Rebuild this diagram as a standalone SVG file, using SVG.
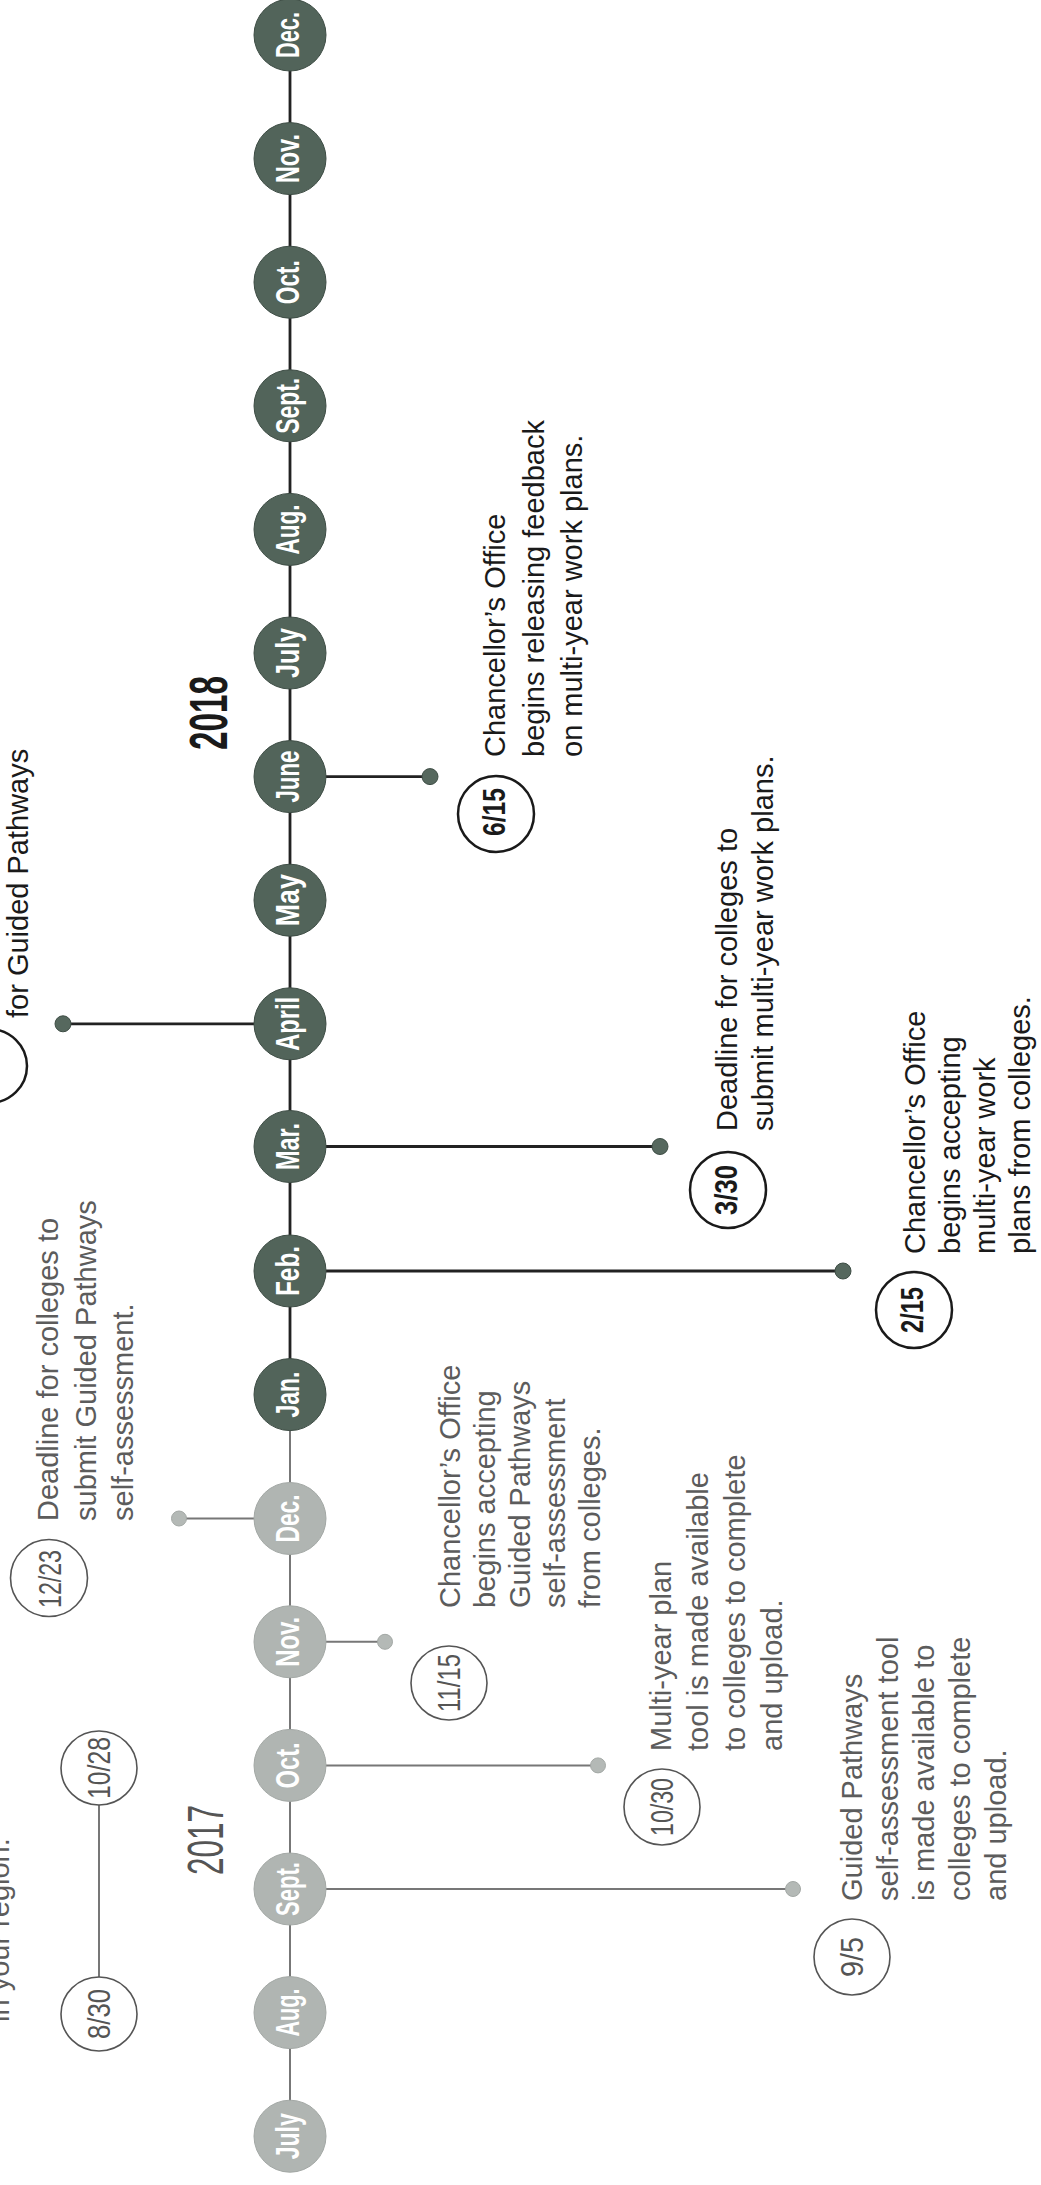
<svg xmlns="http://www.w3.org/2000/svg" width="1041" height="2185" viewBox="0 0 1041 2185">
<style>
.bg{fill:#ffffff}
.mdark{fill:#52645a;stroke:#3e4d45;stroke-width:1}
.mlight{fill:#b0b5b2;stroke:#a3a8a5;stroke-width:1}
.ml{font-family:"Liberation Sans",Arial,sans-serif;font-weight:bold;font-size:34px;fill:#ffffff;text-anchor:middle}
.b18{font-family:"Liberation Sans",Arial,sans-serif;font-size:29px;fill:#1a1a1a}
.b17{font-family:"Liberation Sans",Arial,sans-serif;font-size:29px;fill:#5c5c5c}
.bd18{fill:#ffffff;stroke:#1a1a1a;stroke-width:2.5}
.bd17{fill:#ffffff;stroke:#555555;stroke-width:1.6}
.bt18{font-family:"Liberation Sans",Arial,sans-serif;font-weight:bold;font-size:32px;fill:#1a1a1a;text-anchor:middle}
.bt17{font-family:"Liberation Sans",Arial,sans-serif;font-size:32px;fill:#555555;text-anchor:middle}
.c18{stroke:#222222;stroke-width:2.8;fill:none}
.c17{stroke:#777777;stroke-width:2;fill:none}
.d18{fill:#56685e;stroke:#3e4d45;stroke-width:1}
.d17{fill:#b4b9b6;stroke:#a3a8a5;stroke-width:1}
.yr18{font-family:"Liberation Sans",Arial,sans-serif;font-weight:bold;font-size:54px;fill:#1a1a1a;text-anchor:middle}
.yr17{font-family:"Liberation Sans",Arial,sans-serif;font-size:50px;fill:#555555;text-anchor:middle}
</style>
<rect class="bg" x="0" y="0" width="1041" height="2185"/>

<g id="connectors">
  <line class="c18" x1="290" y1="35" x2="290" y2="1394.6"/>
  <line class="c17" x1="290" y1="1394.6" x2="290" y2="2136.2"/>
  <line class="c18" x1="326" y1="776.6" x2="430" y2="776.6"/>
  <line class="c18" x1="254" y1="1023.8" x2="63" y2="1023.8"/>
  <line class="c18" x1="326" y1="1146.5" x2="660" y2="1146.5"/>
  <line class="c18" x1="326" y1="1271" x2="843" y2="1271"/>
  <line class="c17" x1="254" y1="1518.5" x2="179" y2="1518.5"/>
  <line class="c17" x1="326" y1="1641.8" x2="385" y2="1641.8"/>
  <line class="c17" x1="326" y1="1765.4" x2="598" y2="1765.4"/>
  <line class="c17" x1="326" y1="1889" x2="793" y2="1889"/>
  <line class="c17" x1="99" y1="1805" x2="99" y2="1977"/>
</g>

<g id="months">
  <g id="m-dec-2018"><circle class="mdark" cx="290" cy="35" r="36"/><text class="ml" transform="translate(290,35) rotate(-90)" y="8.5" textLength="46" lengthAdjust="spacingAndGlyphs">Dec.</text></g>
  <g id="m-nov-2018"><circle class="mdark" cx="290" cy="158.6" r="36"/><text class="ml" transform="translate(290,158.6) rotate(-90)" y="8.5" textLength="49" lengthAdjust="spacingAndGlyphs">Nov.</text></g>
  <g id="m-oct-2018"><circle class="mdark" cx="290" cy="282.2" r="36"/><text class="ml" transform="translate(290,282.2) rotate(-90)" y="8.5" textLength="44" lengthAdjust="spacingAndGlyphs">Oct.</text></g>
  <g id="m-sept-2018"><circle class="mdark" cx="290" cy="405.8" r="36"/><text class="ml" transform="translate(290,405.8) rotate(-90)" y="8.5" textLength="56" lengthAdjust="spacingAndGlyphs">Sept.</text></g>
  <g id="m-aug-2018"><circle class="mdark" cx="290" cy="529.4" r="36"/><text class="ml" transform="translate(290,529.4) rotate(-90)" y="8.5" textLength="50" lengthAdjust="spacingAndGlyphs">Aug.</text></g>
  <g id="m-july-2018"><circle class="mdark" cx="290" cy="653" r="36"/><text class="ml" transform="translate(290,653) rotate(-90)" y="8.5" textLength="50" lengthAdjust="spacingAndGlyphs">July</text></g>
  <g id="m-june-2018"><circle class="mdark" cx="290" cy="776.6" r="36"/><text class="ml" transform="translate(290,776.6) rotate(-90)" y="8.5" textLength="52" lengthAdjust="spacingAndGlyphs">June</text></g>
  <g id="m-may-2018"><circle class="mdark" cx="290" cy="900.2" r="36"/><text class="ml" transform="translate(290,900.2) rotate(-90)" y="8.5" textLength="52" lengthAdjust="spacingAndGlyphs">May</text></g>
  <g id="m-april-2018"><circle class="mdark" cx="290" cy="1023.8" r="36"/><text class="ml" transform="translate(290,1023.8) rotate(-90)" y="8.5" textLength="54" lengthAdjust="spacingAndGlyphs">April</text></g>
  <g id="m-mar-2018"><circle class="mdark" cx="290" cy="1146.5" r="36"/><text class="ml" transform="translate(290,1146.5) rotate(-90)" y="8.5" textLength="47" lengthAdjust="spacingAndGlyphs">Mar.</text></g>
  <g id="m-feb-2018"><circle class="mdark" cx="290" cy="1271" r="36"/><text class="ml" transform="translate(290,1271) rotate(-90)" y="8.5" textLength="50" lengthAdjust="spacingAndGlyphs">Feb.</text></g>
  <g id="m-jan-2018"><circle class="mdark" cx="290" cy="1394.6" r="36"/><text class="ml" transform="translate(290,1394.6) rotate(-90)" y="8.5" textLength="46" lengthAdjust="spacingAndGlyphs">Jan.</text></g>
  <g id="m-dec-2017"><circle class="mlight" cx="290" cy="1518.5" r="36"/><text class="ml" transform="translate(290,1518.5) rotate(-90)" y="8.5" textLength="48" lengthAdjust="spacingAndGlyphs">Dec.</text></g>
  <g id="m-nov-2017"><circle class="mlight" cx="290" cy="1641.8" r="36"/><text class="ml" transform="translate(290,1641.8) rotate(-90)" y="8.5" textLength="50" lengthAdjust="spacingAndGlyphs">Nov.</text></g>
  <g id="m-oct-2017"><circle class="mlight" cx="290" cy="1765.4" r="36"/><text class="ml" transform="translate(290,1765.4) rotate(-90)" y="8.5" textLength="46" lengthAdjust="spacingAndGlyphs">Oct.</text></g>
  <g id="m-sept-2017"><circle class="mlight" cx="290" cy="1889" r="36"/><text class="ml" transform="translate(290,1889) rotate(-90)" y="8.5" textLength="54" lengthAdjust="spacingAndGlyphs">Sept.</text></g>
  <g id="m-aug-2017"><circle class="mlight" cx="290" cy="2012.6" r="36"/><text class="ml" transform="translate(290,2012.6) rotate(-90)" y="8.5" textLength="48" lengthAdjust="spacingAndGlyphs">Aug.</text></g>
  <g id="m-july-2017"><circle class="mlight" cx="290" cy="2136.2" r="36"/><text class="ml" transform="translate(290,2136.2) rotate(-90)" y="8.5" textLength="46" lengthAdjust="spacingAndGlyphs">July</text></g>
</g>

<g id="year-2018"><text class="yr18" transform="translate(227,713) rotate(-90)" textLength="74" lengthAdjust="spacingAndGlyphs">2018</text></g>
<g id="year-2017"><text class="yr17" transform="translate(223,1840) rotate(-90)" textLength="70" lengthAdjust="spacingAndGlyphs">2017</text></g>

<g id="ev-april">
  <circle class="d18" cx="63" cy="1023.8" r="8"/>
  <ellipse class="bd18" cx="-11" cy="1066" rx="38" ry="37"/>
  <text class="b18" transform="translate(28,1018) rotate(-90)">for Guided Pathways</text>
</g>

<g id="ev-0615">
  <circle class="d18" cx="430" cy="776.6" r="8"/>
  <ellipse class="bd18" cx="496" cy="814" rx="38" ry="38"/>
  <text class="bt18" transform="translate(496,812) rotate(-90)" y="9" textLength="48" lengthAdjust="spacingAndGlyphs">6/15</text>
  <text class="b18" transform="translate(505,757) rotate(-90)"><tspan x="0" y="0">Chancellor’s Office</tspan><tspan x="0" y="38.5">begins releasing feedback</tspan><tspan x="0" y="77">on multi-year work plans.</tspan></text>
</g>

<g id="ev-0330">
  <circle class="d18" cx="660" cy="1146.5" r="8"/>
  <ellipse class="bd18" cx="728" cy="1190" rx="38" ry="38"/>
  <text class="bt18" transform="translate(728,1190) rotate(-90)" y="9" textLength="50" lengthAdjust="spacingAndGlyphs">3/30</text>
  <text class="b18" transform="translate(737,1131) rotate(-90)"><tspan x="0" y="0">Deadline for colleges to</tspan><tspan x="0" y="35.5">submit multi-year work plans.</tspan></text>
</g>

<g id="ev-0215">
  <circle class="d18" cx="843" cy="1271" r="8"/>
  <ellipse class="bd18" cx="914" cy="1310" rx="38" ry="38"/>
  <text class="bt18" transform="translate(914,1310) rotate(-90)" y="9" textLength="46" lengthAdjust="spacingAndGlyphs">2/15</text>
  <text class="b18" transform="translate(925,1254) rotate(-90)"><tspan x="0" y="0">Chancellor’s Office</tspan><tspan x="0" y="35">begins accepting</tspan><tspan x="0" y="70">multi-year work</tspan><tspan x="0" y="105">plans from colleges.</tspan></text>
</g>

<g id="ev-1223">
  <circle class="d17" cx="179" cy="1518.5" r="7.5"/>
  <ellipse class="bd17" cx="49" cy="1578" rx="38.5" ry="38.5"/>
  <text class="bt17" transform="translate(49,1579) rotate(-90)" y="12" textLength="58" lengthAdjust="spacingAndGlyphs">12/23</text>
  <text class="b17" transform="translate(58,1521) rotate(-90)"><tspan x="0" y="0">Deadline for colleges to</tspan><tspan x="0" y="37.5">submit Guided Pathways</tspan><tspan x="0" y="75">self-assessment.</tspan></text>
</g>

<g id="ev-1115">
  <circle class="d17" cx="385" cy="1641.8" r="7.5"/>
  <ellipse class="bd17" cx="449" cy="1683" rx="38" ry="37"/>
  <text class="bt17" transform="translate(449,1683) rotate(-90)" y="11" textLength="58" lengthAdjust="spacingAndGlyphs">11/15</text>
  <text class="b17" transform="translate(460,1608) rotate(-90)"><tspan x="0" y="0">Chancellor’s Office</tspan><tspan x="0" y="35">begins accepting</tspan><tspan x="0" y="70">Guided Pathways</tspan><tspan x="0" y="105">self-assessment</tspan><tspan x="0" y="140">from colleges.</tspan></text>
</g>

<g id="ev-1030">
  <circle class="d17" cx="598" cy="1765.4" r="7.5"/>
  <ellipse class="bd17" cx="662" cy="1807" rx="38" ry="38"/>
  <text class="bt17" transform="translate(662,1807) rotate(-90)" y="11" textLength="58" lengthAdjust="spacingAndGlyphs">10/30</text>
  <text class="b17" transform="translate(671,1751) rotate(-90)"><tspan x="0" y="0">Multi-year plan</tspan><tspan x="0" y="37">tool is made available</tspan><tspan x="0" y="74">to colleges to complete</tspan><tspan x="0" y="111">and upload.</tspan></text>
</g>

<g id="ev-0905">
  <circle class="d17" cx="793" cy="1889" r="7.5"/>
  <ellipse class="bd17" cx="852" cy="1957" rx="38" ry="38"/>
  <text class="bt17" transform="translate(852,1957) rotate(-90)" y="11" textLength="40" lengthAdjust="spacingAndGlyphs">9/5</text>
  <text class="b17" transform="translate(862,1901) rotate(-90)"><tspan x="0" y="0">Guided Pathways</tspan><tspan x="0" y="36">self-assessment tool</tspan><tspan x="0" y="72">is made available to</tspan><tspan x="0" y="108">colleges to complete</tspan><tspan x="0" y="144">and upload.</tspan></text>
</g>

<g id="ev-0830-1028">
  <ellipse class="bd17" cx="99" cy="2014" rx="38" ry="37"/>
  <text class="bt17" transform="translate(99,2014) rotate(-90)" y="11" textLength="50" lengthAdjust="spacingAndGlyphs">8/30</text>
  <ellipse class="bd17" cx="99" cy="1768" rx="38" ry="37"/>
  <text class="bt17" transform="translate(99,1768) rotate(-90)" y="11" textLength="62" lengthAdjust="spacingAndGlyphs">10/28</text>
  <text class="b17" transform="translate(9,2022) rotate(-90)">in your region.</text>
</g>
</svg>
